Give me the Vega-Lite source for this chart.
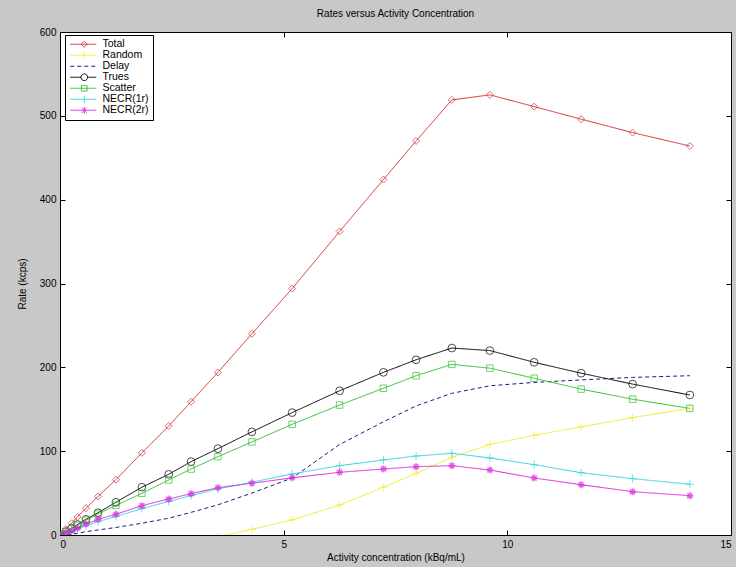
{
  "$schema": "https://vega.github.io/schema/vega-lite/v6.json",
  "autosize": "none",
  "width": 671,
  "height": 503,
  "padding": {"left": 60, "top": 32, "right": 5, "bottom": 32},
  "background": "#c8c8c8",
  "title": {"text": "Rates versus Activity Concentration", "fontSize": 10, "fontWeight": "normal", "font": "Liberation Sans", "color": "black", "anchor": "middle", "offset": 8},
  "config": {
    "view": {"fill": "white", "stroke": "black", "strokeWidth": 1},
    "axis": {"grid": false, "domainColor": "black", "tickColor": "black", "labelColor": "black", "titleColor": "black", "labelFont": "Liberation Sans", "titleFont": "Liberation Sans", "labelFontSize": 10, "titleFontSize": 10, "titleFontWeight": "normal", "tickSize": -5, "labelPadding": 9}
  },
  "datasets": {
    "rates": [
      {"series":"Total","x":0,"y":0},{"series":"Total","x":0.13,"y":7},{"series":"Total","x":0.26,"y":14},{"series":"Total","x":0.39,"y":21.5},{"series":"Total","x":0.58,"y":32},{"series":"Total","x":0.85,"y":46},{"series":"Total","x":1.25,"y":66},{"series":"Total","x":1.83,"y":98},{"series":"Total","x":2.43,"y":130},{"series":"Total","x":2.93,"y":159},{"series":"Total","x":3.53,"y":194},{"series":"Total","x":4.29,"y":240},{"series":"Total","x":5.19,"y":294},{"series":"Total","x":6.25,"y":362},{"series":"Total","x":7.23,"y":424},{"series":"Total","x":7.96,"y":470},{"series":"Total","x":8.76,"y":519},{"series":"Total","x":9.61,"y":525},{"series":"Total","x":10.6,"y":511},{"series":"Total","x":11.65,"y":496},{"series":"Total","x":12.8,"y":480},{"series":"Total","x":14.08,"y":464},
      {"series":"Random","x":3.53,"y":-2},{"series":"Random","x":4.29,"y":6.8},{"series":"Random","x":5.19,"y":18},{"series":"Random","x":6.25,"y":35.8},{"series":"Random","x":7.23,"y":57},{"series":"Random","x":7.96,"y":73.6},{"series":"Random","x":8.76,"y":92.7},{"series":"Random","x":9.61,"y":108},{"series":"Random","x":10.6,"y":119},{"series":"Random","x":11.65,"y":129},{"series":"Random","x":12.8,"y":140},{"series":"Random","x":14.08,"y":151},
      {"series":"Delay","x":0,"y":0},{"series":"Delay","x":0.13,"y":0.5},{"series":"Delay","x":0.26,"y":1},{"series":"Delay","x":0.39,"y":2},{"series":"Delay","x":0.58,"y":4},{"series":"Delay","x":0.85,"y":6},{"series":"Delay","x":1.25,"y":9},{"series":"Delay","x":1.83,"y":14},{"series":"Delay","x":2.43,"y":20},{"series":"Delay","x":2.93,"y":27},{"series":"Delay","x":3.53,"y":36},{"series":"Delay","x":4.29,"y":50},{"series":"Delay","x":5.19,"y":68},{"series":"Delay","x":6.25,"y":108},{"series":"Delay","x":7.23,"y":135},{"series":"Delay","x":7.96,"y":154},{"series":"Delay","x":8.76,"y":169},{"series":"Delay","x":9.61,"y":178},{"series":"Delay","x":10.6,"y":182},{"series":"Delay","x":11.65,"y":185},{"series":"Delay","x":12.8,"y":188},{"series":"Delay","x":14.08,"y":190},
      {"series":"Trues","x":0,"y":0},{"series":"Trues","x":0.13,"y":4},{"series":"Trues","x":0.26,"y":8},{"series":"Trues","x":0.39,"y":12.5},{"series":"Trues","x":0.58,"y":18.7},{"series":"Trues","x":0.85,"y":26.6},{"series":"Trues","x":1.25,"y":39},{"series":"Trues","x":1.83,"y":57},{"series":"Trues","x":2.43,"y":72.4},{"series":"Trues","x":2.93,"y":87.5},{"series":"Trues","x":3.53,"y":103},{"series":"Trues","x":4.29,"y":123},{"series":"Trues","x":5.19,"y":146},{"series":"Trues","x":6.25,"y":172},{"series":"Trues","x":7.23,"y":194},{"series":"Trues","x":7.96,"y":209},{"series":"Trues","x":8.76,"y":223},{"series":"Trues","x":9.61,"y":220},{"series":"Trues","x":10.6,"y":206},{"series":"Trues","x":11.65,"y":193},{"series":"Trues","x":12.8,"y":180},{"series":"Trues","x":14.08,"y":167},
      {"series":"Scatter","x":0,"y":0},{"series":"Scatter","x":0.13,"y":3.8},{"series":"Scatter","x":0.26,"y":7.7},{"series":"Scatter","x":0.39,"y":11.5},{"series":"Scatter","x":0.58,"y":17.5},{"series":"Scatter","x":0.85,"y":25},{"series":"Scatter","x":1.25,"y":35.4},{"series":"Scatter","x":1.83,"y":49.7},{"series":"Scatter","x":2.43,"y":65.6},{"series":"Scatter","x":2.93,"y":78.7},{"series":"Scatter","x":3.53,"y":93.4},{"series":"Scatter","x":4.29,"y":111},{"series":"Scatter","x":5.19,"y":132},{"series":"Scatter","x":6.25,"y":155},{"series":"Scatter","x":7.23,"y":175},{"series":"Scatter","x":7.96,"y":190},{"series":"Scatter","x":8.76,"y":203.5},{"series":"Scatter","x":9.61,"y":199},{"series":"Scatter","x":10.6,"y":187},{"series":"Scatter","x":11.65,"y":174},{"series":"Scatter","x":12.8,"y":162},{"series":"Scatter","x":14.08,"y":151},
      {"series":"NECR(1r)","x":0,"y":0},{"series":"NECR(1r)","x":0.13,"y":2},{"series":"NECR(1r)","x":0.26,"y":4.5},{"series":"NECR(1r)","x":0.39,"y":7},{"series":"NECR(1r)","x":0.58,"y":11},{"series":"NECR(1r)","x":0.85,"y":16},{"series":"NECR(1r)","x":1.25,"y":22},{"series":"NECR(1r)","x":1.83,"y":31.5},{"series":"NECR(1r)","x":2.43,"y":40},{"series":"NECR(1r)","x":2.93,"y":47},{"series":"NECR(1r)","x":3.53,"y":55},{"series":"NECR(1r)","x":4.29,"y":63},{"series":"NECR(1r)","x":5.19,"y":72.8},{"series":"NECR(1r)","x":6.25,"y":82.7},{"series":"NECR(1r)","x":7.23,"y":89.5},{"series":"NECR(1r)","x":7.96,"y":94.2},{"series":"NECR(1r)","x":8.76,"y":97.5},{"series":"NECR(1r)","x":9.61,"y":91.9},{"series":"NECR(1r)","x":10.6,"y":83.9},{"series":"NECR(1r)","x":11.65,"y":74.3},{"series":"NECR(1r)","x":12.8,"y":67.2},{"series":"NECR(1r)","x":14.08,"y":60.5},
      {"series":"NECR(2r)","x":0,"y":0},{"series":"NECR(2r)","x":0.13,"y":2.5},{"series":"NECR(2r)","x":0.26,"y":5},{"series":"NECR(2r)","x":0.39,"y":8},{"series":"NECR(2r)","x":0.58,"y":13},{"series":"NECR(2r)","x":0.85,"y":18.7},{"series":"NECR(2r)","x":1.25,"y":24.7},{"series":"NECR(2r)","x":1.83,"y":35},{"series":"NECR(2r)","x":2.43,"y":43},{"series":"NECR(2r)","x":2.93,"y":49.3},{"series":"NECR(2r)","x":3.53,"y":56.5},{"series":"NECR(2r)","x":4.29,"y":61.7},{"series":"NECR(2r)","x":5.19,"y":68.2},{"series":"NECR(2r)","x":6.25,"y":74.8},{"series":"NECR(2r)","x":7.23,"y":78.7},{"series":"NECR(2r)","x":7.96,"y":81.5},{"series":"NECR(2r)","x":8.76,"y":82.7},{"series":"NECR(2r)","x":9.61,"y":77.5},{"series":"NECR(2r)","x":10.6,"y":68},{"series":"NECR(2r)","x":11.65,"y":60},{"series":"NECR(2r)","x":12.8,"y":51.7},{"series":"NECR(2r)","x":14.08,"y":46.9}
    ]
  },
  "data": {"name": "rates"},
  "resolve": {"axis": {"x": "independent", "y": "independent"}},
  "layer": [
    {
      "mark": {"type": "point", "filled": false, "opacity": 0, "size": 49},
      "encoding": {
        "x": {"field": "x", "type": "quantitative", "scale": {"domain": [0, 15], "nice": false, "zero": false}, "axis": null},
        "y": {"field": "y", "type": "quantitative", "scale": {"domain": [0, 600], "nice": false}, "axis": null},
        "color": {"field": "series", "type": "nominal", "scale": {"domain": ["Total", "Random", "Delay", "Trues", "Scatter", "NECR(1r)", "NECR(2r)"], "range": ["#d03030", "#eeee30", "#1c1c80", "#000000", "#30c030", "#30d4e4", "#e020e0"]}, "legend": {"title": null, "orient": "none", "legendX": 5, "legendY": 3, "padding": 4, "strokeColor": "black", "fillColor": "white", "labelFont": "Liberation Sans", "labelFontSize": 10.5, "labelColor": "black", "labelAlign": "left", "labelOffset": 23, "rowPadding": -2, "symbolSize": 49, "symbolStrokeWidth": 1, "symbolOpacity": 1}},
        "shape": {"field": "series", "type": "nominal", "scale": {"domain": ["Total", "Random", "Delay", "Trues", "Scatter", "NECR(1r)", "NECR(2r)"], "range": [
          "M-1.14,0H6.29M2.86,-0.86L3.72,0L2.86,0.86L2,0Z",
          "M-1.14,0H6.29M2.86,-1V1",
          "M-1.14,0H6.29",
          "M-1.14,0H1.91A0.95,0.95,0,1,1,3.81,0A0.95,0.95,0,1,1,1.91,0M3.81,0H6.29",
          "M-1.14,0H6.29M2.06,-0.8H3.66V0.8H2.06Z",
          "M-1.14,0H6.29M2.86,-1V1",
          "M-1.14,0H6.29M2.86,-1V1M2.15,-0.71L3.57,0.71M2.15,0.71L3.57,-0.71"
        ]}},
        "strokeDash": {"field": "series", "type": "nominal", "scale": {"domain": ["Total", "Random", "Delay", "Trues", "Scatter", "NECR(1r)", "NECR(2r)"], "range": [[1, 0], [1, 0], [4, 3], [1, 0], [1, 0], [1, 0], [1, 0]]}}
      }
    },
    {
      "mark": {"type": "line", "strokeWidth": 1, "clip": true},
      "encoding": {
        "x": {"field": "x", "type": "quantitative", "axis": {"orient": "bottom", "values": [0, 5, 10, 15], "title": "Activity concentration (kBq/mL)", "titlePadding": 3, "labelPadding": 9}},
        "y": {"field": "y", "type": "quantitative", "axis": {"orient": "left", "values": [0, 100, 200, 300, 400, 500, 600], "title": "Rate (kcps)", "titlePadding": 12, "labelPadding": 9}},
        "color": {"field": "series", "type": "nominal", "legend": null},
        "strokeDash": {"field": "series", "type": "nominal", "legend": null}
      }
    },
    {
      "mark": {"type": "line", "opacity": 0},
      "encoding": {
        "x": {"field": "x", "type": "quantitative", "axis": {"orient": "top", "values": [0, 5, 10, 15], "labels": false, "title": null, "domain": false}},
        "y": {"field": "y", "type": "quantitative", "axis": {"orient": "right", "values": [0, 100, 200, 300, 400, 500, 600], "labels": false, "title": null, "domain": false}},
        "detail": {"field": "series"}
      }
    },
    {
      "transform": [{"filter": "datum.series === 'Total'"}],
      "mark": {"type": "point", "shape": "diamond", "filled": false, "size": 49, "strokeWidth": 1, "clip": true},
      "encoding": {"x": {"field": "x", "type": "quantitative", "axis": null}, "y": {"field": "y", "type": "quantitative", "axis": null}, "color": {"field": "series", "type": "nominal", "legend": null}}
    },
    {
      "transform": [{"filter": "datum.series === 'Random' || datum.series === 'NECR(1r)'"}],
      "mark": {"type": "point", "shape": "M-1,0H1M0,-1V1", "filled": false, "size": 64, "strokeWidth": 1, "clip": true},
      "encoding": {"x": {"field": "x", "type": "quantitative", "axis": null}, "y": {"field": "y", "type": "quantitative", "axis": null}, "color": {"field": "series", "type": "nominal", "legend": null}}
    },
    {
      "transform": [{"filter": "datum.series === 'Trues'"}],
      "mark": {"type": "point", "shape": "circle", "filled": false, "size": 60, "strokeWidth": 1, "clip": true},
      "encoding": {"x": {"field": "x", "type": "quantitative", "axis": null}, "y": {"field": "y", "type": "quantitative", "axis": null}, "color": {"field": "series", "type": "nominal", "legend": null}}
    },
    {
      "transform": [{"filter": "datum.series === 'Scatter'"}],
      "mark": {"type": "point", "shape": "square", "filled": false, "size": 42, "strokeWidth": 1, "clip": true},
      "encoding": {"x": {"field": "x", "type": "quantitative", "axis": null}, "y": {"field": "y", "type": "quantitative", "axis": null}, "color": {"field": "series", "type": "nominal", "legend": null}}
    },
    {
      "transform": [{"filter": "datum.series === 'NECR(2r)'"}],
      "mark": {"type": "point", "shape": "M-1,0H1M0,-1V1M-0.7,-0.7L0.7,0.7M-0.7,0.7L0.7,-0.7", "filled": false, "size": 49, "strokeWidth": 1.5, "clip": true},
      "encoding": {"x": {"field": "x", "type": "quantitative", "axis": null}, "y": {"field": "y", "type": "quantitative", "axis": null}, "color": {"field": "series", "type": "nominal", "legend": null}}
    }
  ]
}
